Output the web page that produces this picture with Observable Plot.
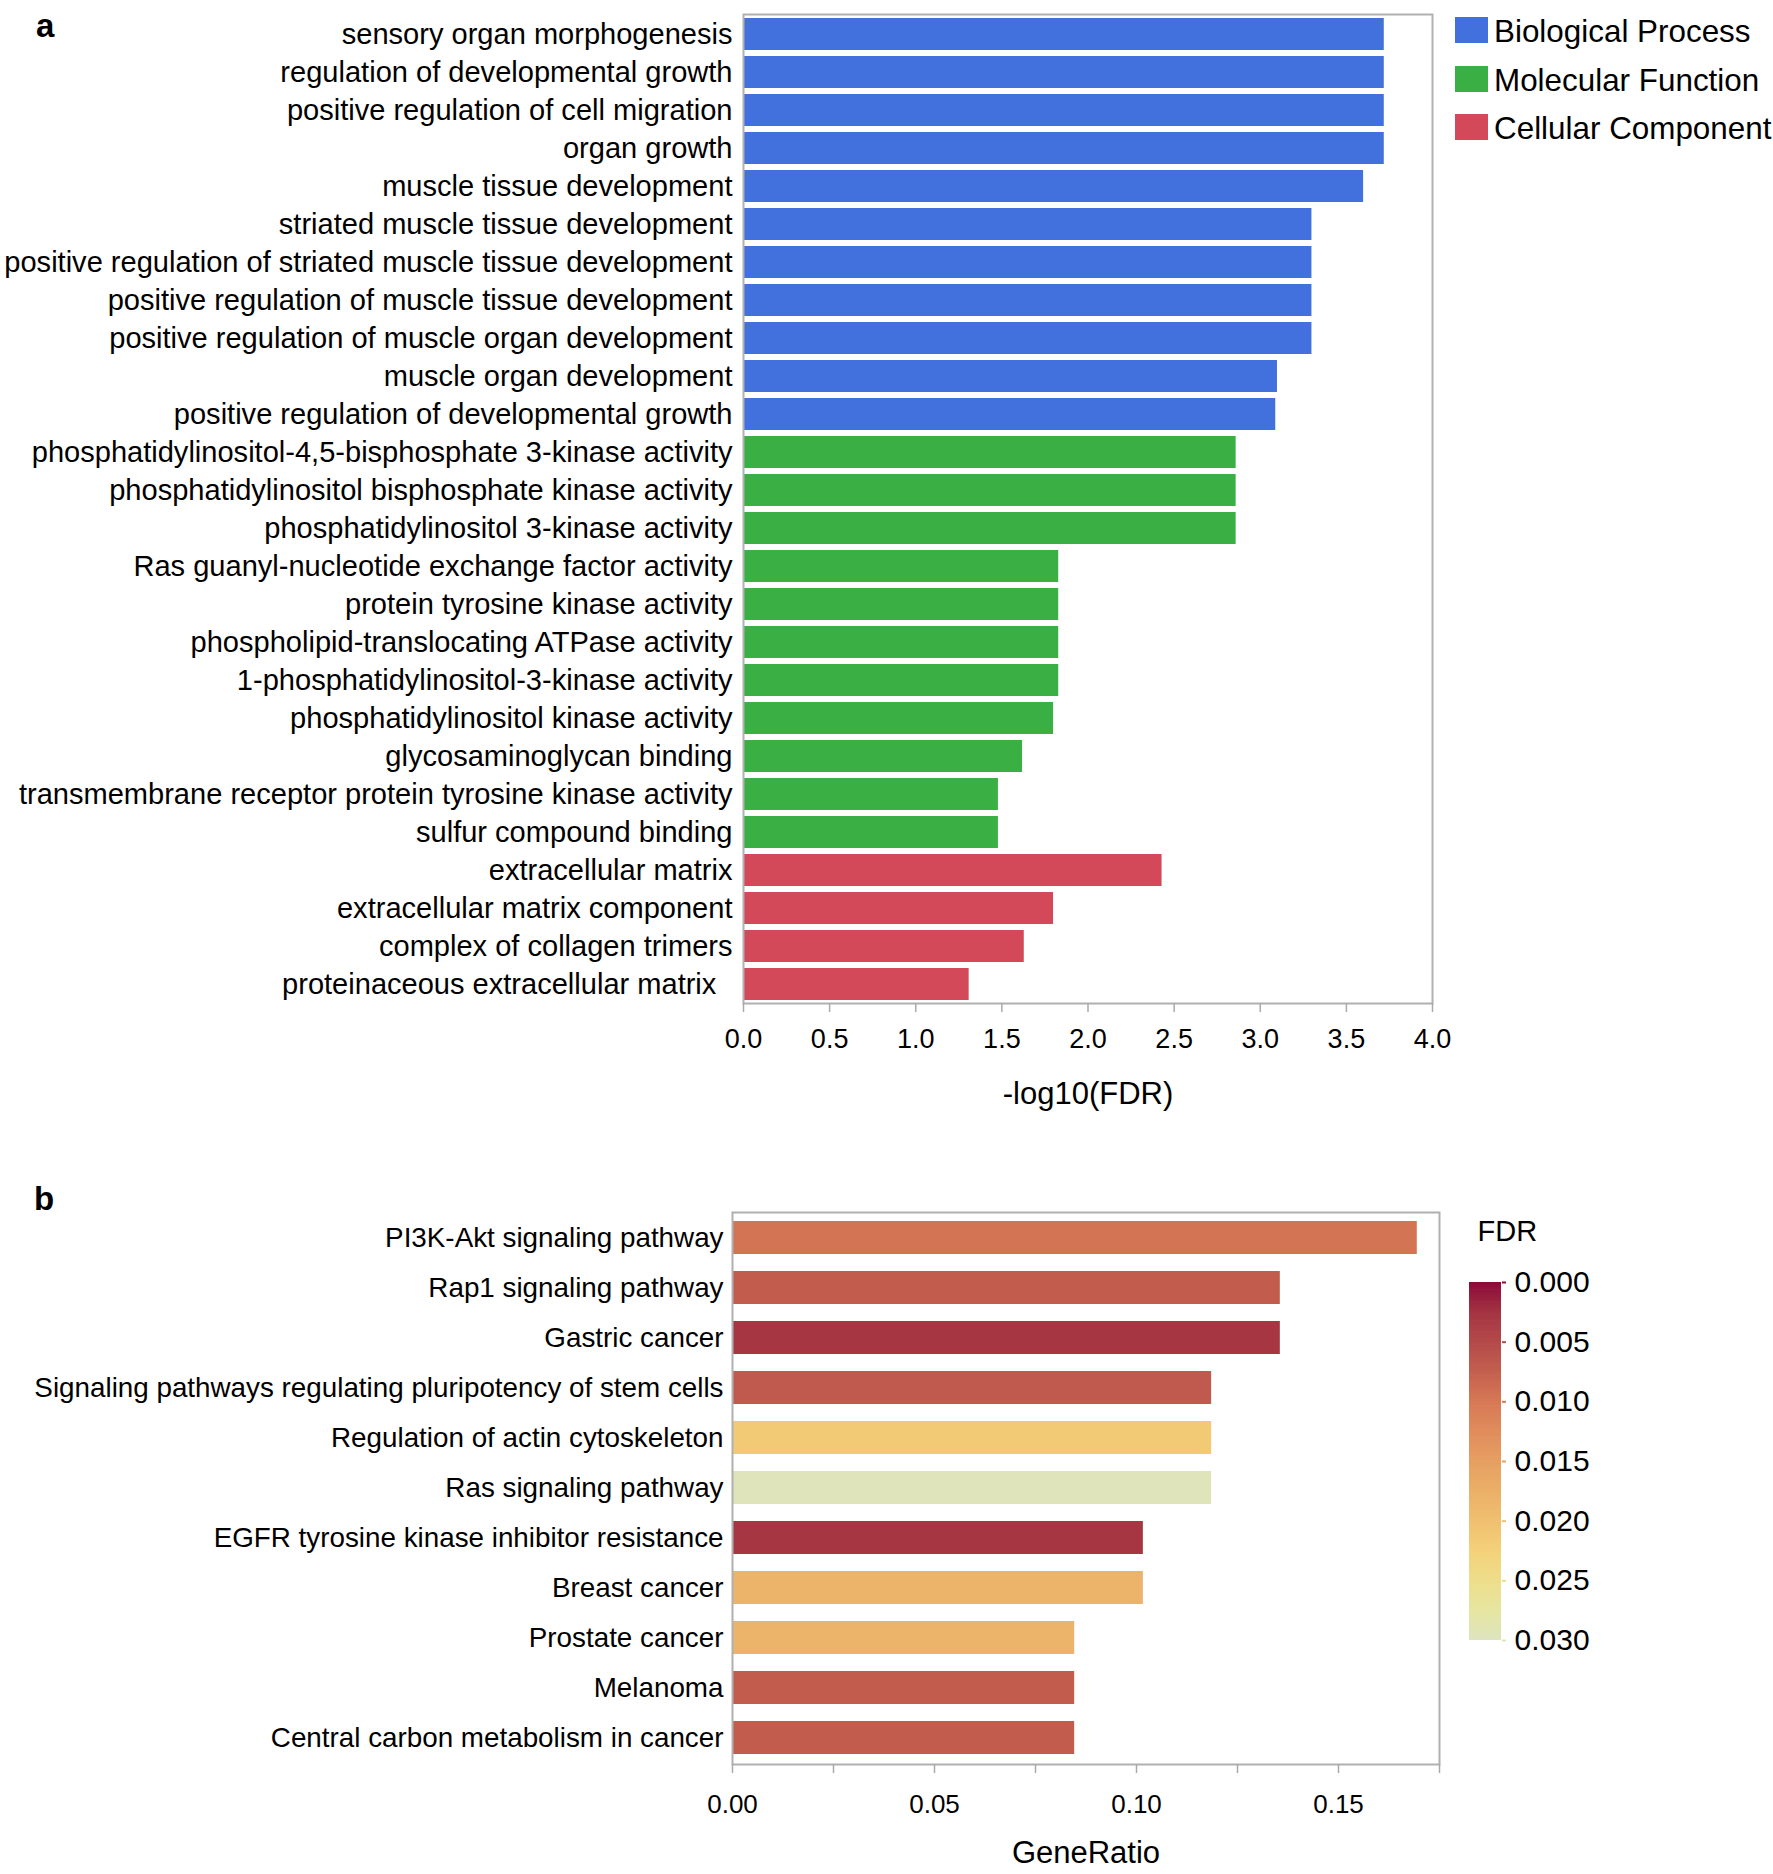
<!DOCTYPE html>
<html><head><meta charset="utf-8">
<script src="https://cdn.jsdelivr.net/npm/d3@7"></script>
<script src="https://cdn.jsdelivr.net/npm/@observablehq/plot@0.6"></script>
<style>
body{margin:0;background:#fff;}
#root{position:relative;width:1773px;height:1874px;overflow:hidden;font-family:"Liberation Sans",Arial,Helvetica,sans-serif;color:#000;}
#root > *{position:absolute;}
.lbl{font-weight:bold;font-size:33px;line-height:33px;}
.sw{width:33px;height:26px;}
.lt{font-size:31.4px;line-height:31px;white-space:nowrap;}
</style></head><body><div id="root"></div>
<script>
// ---------- Panel a data ----------
const termsA = [
  "sensory organ morphogenesis",
  "regulation of developmental growth",
  "positive regulation of cell migration",
  "organ growth",
  "muscle tissue development",
  "striated muscle tissue development",
  "positive regulation of striated muscle tissue development",
  "positive regulation of muscle tissue development",
  "positive regulation of muscle organ development",
  "muscle organ development",
  "positive regulation of developmental growth",
  "phosphatidylinositol-4,5-bisphosphate 3-kinase activity",
  "phosphatidylinositol bisphosphate kinase activity",
  "phosphatidylinositol 3-kinase activity",
  "Ras guanyl-nucleotide exchange factor activity",
  "protein tyrosine kinase activity",
  "phospholipid-translocating ATPase activity",
  "1-phosphatidylinositol-3-kinase activity",
  "phosphatidylinositol kinase activity",
  "glycosaminoglycan binding",
  "transmembrane receptor protein tyrosine kinase activity",
  "sulfur compound binding",
  "extracellular matrix",
  "extracellular matrix component",
  "complex of collagen trimers",
  "proteinaceous extracellular matrix\u00a0\u00a0"
];
const valuesA = [3.72, 3.72, 3.72, 3.72, 3.60, 3.30, 3.30, 3.30, 3.30, 3.10, 3.09,
                 2.86, 2.86, 2.86, 1.83, 1.83, 1.83, 1.83, 1.80, 1.62, 1.48, 1.48,
                 2.43, 1.80, 1.63, 1.31];
const groupA = ["Biological Process","Biological Process","Biological Process","Biological Process",
  "Biological Process","Biological Process","Biological Process","Biological Process",
  "Biological Process","Biological Process","Biological Process",
  "Molecular Function","Molecular Function","Molecular Function","Molecular Function",
  "Molecular Function","Molecular Function","Molecular Function","Molecular Function",
  "Molecular Function","Molecular Function","Molecular Function",
  "Cellular Component","Cellular Component","Cellular Component","Cellular Component"];
const groupNames = ["Biological Process", "Molecular Function", "Cellular Component"];
const groupColors = ["#4270DD", "#3AB044", "#D4495A"];
const ticksA = [0, 0.5, 1, 1.5, 2, 2.5, 3, 3.5, 4];

// ---------- Panel b data ----------
const pathwaysB = [
  "PI3K-Akt signaling pathway",
  "Rap1 signaling pathway",
  "Gastric cancer",
  "Signaling pathways regulating pluripotency of stem cells",
  "Regulation of actin cytoskeleton",
  "Ras signaling pathway",
  "EGFR tyrosine kinase inhibitor resistance",
  "Breast cancer",
  "Prostate cancer",
  "Melanoma",
  "Central carbon metabolism in cancer"
];
const ratioB = [0.1695, 0.1356, 0.1356, 0.1186, 0.1186, 0.1186, 0.1017, 0.1017, 0.0847, 0.0847, 0.0847];
const fdrB = [0.0095, 0.0072, 0.0026, 0.0068, 0.0215, 0.0295, 0.0026, 0.0180, 0.0180, 0.0072, 0.0072];
const ticksBMajor = [0, 0.05, 0.10, 0.15];
const ticksBMinor = [0, 0.025, 0.05, 0.075, 0.10, 0.125, 0.15, 0.175];

// ---------- FDR colour scale ----------
const fdrStops  = [0, 0.0025, 0.005, 0.0075, 0.010, 0.0125, 0.015, 0.0175, 0.020, 0.0225, 0.025, 0.0275, 0.030];
const fdrColors = ["#8C0B3B", "#A43542", "#B44A4A", "#C4604F", "#D77955", "#E08D5C", "#E6A062",
                   "#EBB068", "#F0C070", "#F4D17A", "#EDDE8C", "#E6E6A2", "#DDE4C0"];
const fdrTicks = [0, 0.005, 0.010, 0.015, 0.020, 0.025, 0.030];

const FONT = '"Liberation Sans", Arial, Helvetica, sans-serif';
const root = document.getElementById("root");
const baseStyle = {fontFamily: FONT, fontSize: "28px", color: "#000", background: "transparent", overflow: "visible"};
const colorFDR = {type: "linear", domain: fdrStops, range: fdrColors, interpolate: "rgb"};

function place(el, left, top) {
  el.style.position = "absolute";
  el.style.left = left + "px";
  el.style.top = top + "px";
  root.appendChild(el);
  return el;
}

// ---------- Panel a ----------
const dataA = termsA.map((t, i) => ({term: t, value: valuesA[i], group: groupA[i]}));
const plotA = Plot.plot({
  width: 1440, height: 1123,
  marginLeft: 743, marginRight: 8, marginTop: 14, marginBottom: 120,
  style: baseStyle,
  x: {domain: [0, 4]},
  y: {domain: termsA, paddingInner: 0.16, paddingOuter: 0.07},
  color: {domain: groupNames, range: groupColors},
  marks: [
    Plot.barX(dataA, {x: "value", y: "term", fill: "group"}),
    Plot.frame({stroke: "#b0b0b0", strokeWidth: 2}),
    Plot.axisY({tickSize: 0, tickPadding: 11, fontSize: 29.05, label: null}),
    Plot.axisX({ticks: ticksA, tickSize: 9, tickPadding: 16, stroke: "#aaa", strokeWidth: 1.5,
                tickFormat: d3.format(".1f"), fontSize: 27, label: null}),
    Plot.text(["-log10(FDR)"], {text: d => d, frameAnchor: "bottom", lineAnchor: "middle", dy: 91, fontSize: 31})
  ]
});
place(plotA, 0, 0);

// legend for panel a
const legendTops = [17, 66, 114];
groupNames.forEach((g, i) => {
  const sw = document.createElement("div");
  sw.className = "sw";
  sw.style.background = groupColors[i];
  place(sw, 1455, legendTops[i]);
  const tx = document.createElement("div");
  tx.className = "lt";
  tx.textContent = g;
  place(tx, 1494, legendTops[i] - 1);
});

// ---------- Panel b ----------
const dataB = pathwaysB.map((p, i) => ({pathway: p, ratio: ratioB[i], fdr: fdrB[i]}));
const plotB = Plot.plot({
  width: 1450, height: 684,
  marginLeft: 732, marginRight: 11, marginTop: 22, marginBottom: 110,
  style: baseStyle,
  x: {domain: [0, 0.175]},
  y: {domain: pathwaysB, paddingInner: 0.333, paddingOuter: 0.146},
  color: colorFDR,
  marks: [
    Plot.barX(dataB, {x: "ratio", y: "pathway", fill: "fdr"}),
    Plot.frame({stroke: "#b0b0b0", strokeWidth: 2}),
    Plot.axisY({tickSize: 0, tickPadding: 9, fontSize: 27.8, label: null}),
    Plot.axisX({ticks: ticksBMinor, tickSize: 9, stroke: "#aaa", strokeWidth: 1.5, tickFormat: () => "", label: null}),
    Plot.axisX({ticks: ticksBMajor, tickSize: 0, tickPadding: 30, tickFormat: d3.format(".2f"), fontSize: 26, label: null}),
    Plot.text(["GeneRatio"], {text: d => d, frameAnchor: "bottom", lineAnchor: "middle", dy: 89, fontSize: 31})
  ]
});
place(plotB, 0, 1190);

// ---------- colour bar ----------
const cbSteps = d3.range(0, 0.03, 0.0002);
const plotCB = Plot.plot({
  width: 333, height: 480,
  marginLeft: 29, marginRight: 272, marginTop: 92, marginBottom: 30,
  style: baseStyle,
  x: {domain: [0, 1], axis: null},
  y: {domain: [0, 0.03], reverse: true},
  color: colorFDR,
  marks: [
    Plot.rect(cbSteps, {x1: 0, x2: 1, y1: d => d, y2: d => Math.min(0.03, d + 0.00026), fill: d => d}),
    Plot.axisY({anchor: "right", ticks: fdrTicks, tickSize: 4, tickPadding: 9, stroke: d => d, strokeWidth: 2,
                tickFormat: d3.format(".3f"), fontSize: 30, label: null}),
    Plot.text(["FDR"], {text: d => d, frameAnchor: "top-left", lineAnchor: "middle", dx: 8, dy: -51, textAnchor: "start", fontSize: 29})
  ]
});
place(plotCB, 1440, 1190);

// panel letters
const la = document.createElement("div"); la.className = "lbl"; la.textContent = "a"; place(la, 36, 9);
const lb = document.createElement("div"); lb.className = "lbl"; lb.textContent = "b"; place(lb, 34, 1182);
</script></body></html>
